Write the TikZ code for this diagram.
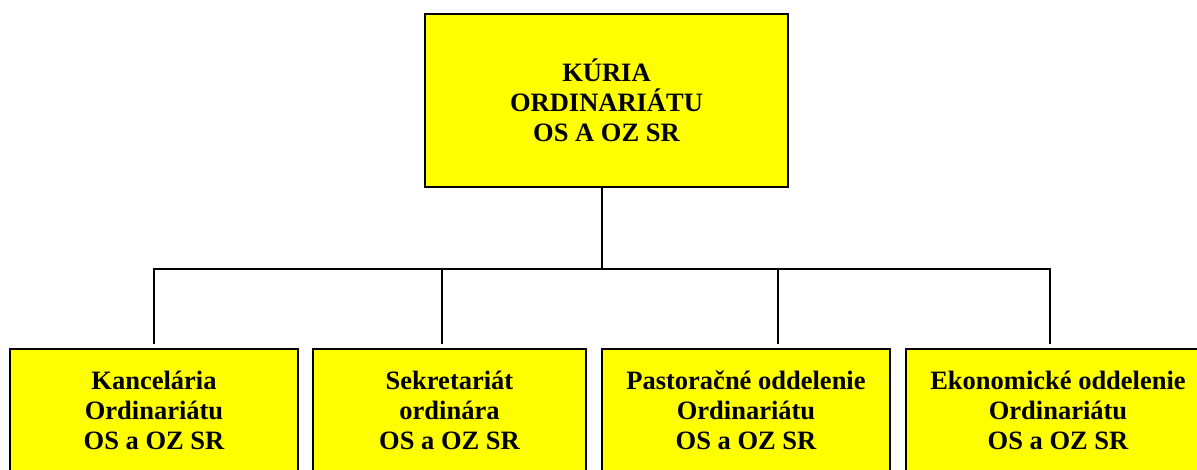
\documentclass[tikz,border=0pt]{standalone}
\usepackage{fontspec}
\setmainfont{Liberation Serif}
\begin{document}
\begin{tikzpicture}[x=1pt,y=-1pt,
  box/.style={draw=black,fill=yellow,line width=1.6pt,inner sep=0pt,align=center,
    font=\fontsize{26.5}{30}\selectfont\bfseries},
  conn/.style={draw=black,line width=1.6pt}]
\useasboundingbox (0,0) rectangle (1197,470);
\definecolor{yellow}{RGB}{255,255,0}
\node[box,minimum width=363pt,minimum height=173pt] (top) at (606.5,100.5)
  {KÚRIA\\ORDINARIÁTU\\OS A OZ SR};
\node[box,minimum width=288pt,minimum height=123pt] (b1) at (154,410.5)
  {Kancelária\\Ordinariátu\\OS a OZ SR};
\node[box,minimum width=273pt,minimum height=123pt] (b2) at (449.5,410.5)
  {Sekretariát\\ordinára\\OS a OZ SR};
\node[box,minimum width=288pt,minimum height=123pt] (b3) at (746,410.5)
  {Pastoračné oddelenie\\Ordinariátu\\OS a OZ SR};
\node[box,minimum width=304pt,minimum height=123pt] (b4) at (1058,410.5)
  {Ekonomické oddelenie\\Ordinariátu\\OS a OZ SR};
\coordinate (jt) at (602,269);
\coordinate (j1) at (154,269);
\coordinate (j2) at (442,269);
\coordinate (j3) at (778,269);
\coordinate (j4) at (1050,269);
\coordinate (e1) at (154,344);
\coordinate (e2) at (442,344);
\coordinate (e3) at (778,344);
\coordinate (e4) at (1050,344);
\draw[conn] (top.south -| jt) -- (jt);
\draw[conn,line cap=rect] (j1) -- (j4);
\draw[conn] (j1) -- (e1);
\draw[conn] (j2) -- (e2);
\draw[conn] (j3) -- (e3);
\draw[conn] (j4) -- (e4);
\end{tikzpicture}
\end{document}
